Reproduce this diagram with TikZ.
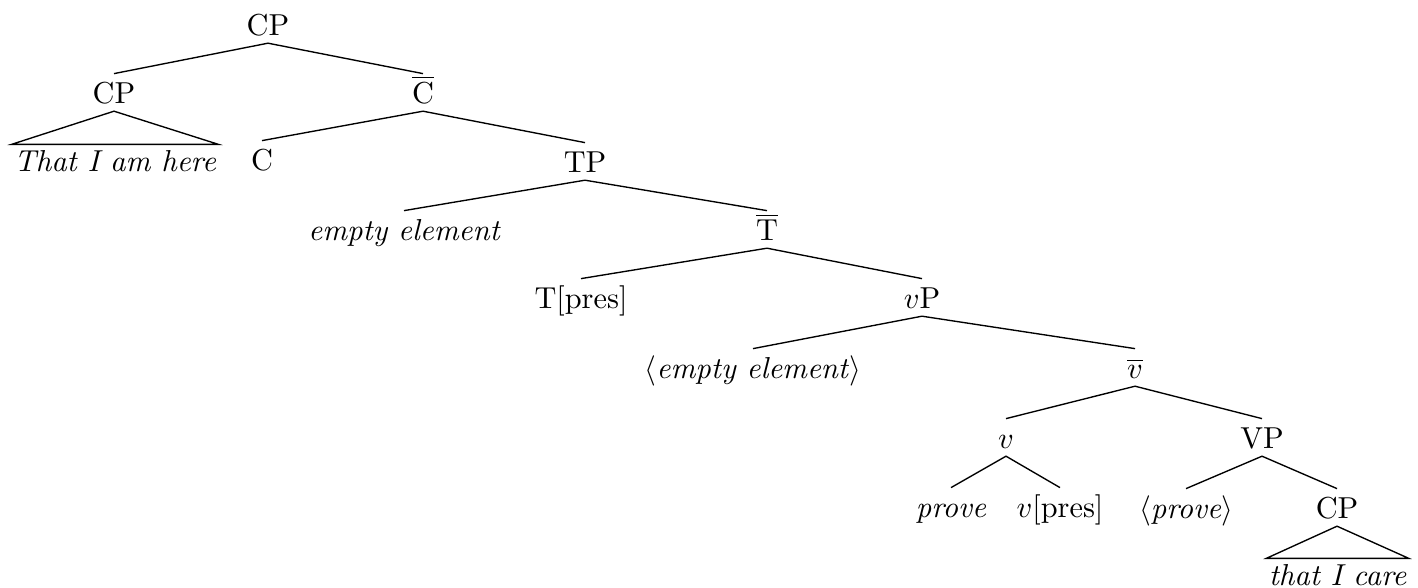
\documentclass[tikz,border=0pt]{standalone}
\begin{document}
\begin{tikzpicture}[x=0.33pt,y=-0.33pt,
  lab/.style={inner sep=0pt,text height=9.5pt,text depth=2.5pt,anchor=base},
  leaf/.style={inner xsep=0.6pt,inner ysep=0pt,text height=8.6pt,text depth=2.5pt,anchor=base},
  edge/.style={line width=0.45pt}]
\useasboundingbox (0,0) rectangle (1418,587);
\node[lab] (cp0) at (268,35) {CP};
\node[lab] (cp1) at (114,103) {CP};
\node[lab] (cbar) at (423,103) {$\overline{\mbox{C}}$};
\node[leaf] (that) at (115,171) {\itshape That I am here};
\node[lab] (c) at (262,170) {C};
\node[lab] (tp) at (585,172) {TP};
\node[lab] (ee) at (404,240) {\itshape empty element};
\node[lab] (tbar) at (767,240) {$\overline{\mbox{T}}$};
\node[lab] (tpres) at (581,308) {T[pres]};
\node[lab] (vp) at (922,308) {$v$P};
\node[lab] (ee2) at (753,378) {$\langle$\textit{empty element}$\rangle$};
\node[lab] (vbar) at (1135,378) {$\overline{v}$};
\node[lab] (v) at (1006,448) {$v$};
\node[lab] (VP) at (1262,448) {VP};
\node[lab] (prove) at (951,517) {\itshape prove};
\node[lab] (vpres) at (1060,517) {$v$[pres]};
\node[lab] (prove2) at (1186,518) {$\langle$\textit{prove}$\rangle$};
\node[lab] (cp2) at (1337,518) {CP};
\node[leaf] (care) at (1337.5,585) {\itshape that I care};
\draw[edge] (cp1.north) -- (cp0.south) -- (cbar.north);
\draw[edge] (cp1.south) -- (that.north west) -- (that.north east) -- cycle;
\draw[edge] (c.north) -- (cbar.south) -- (tp.north);
\draw[edge] (ee.north) -- (tp.south) -- (tbar.north);
\draw[edge] (tpres.north) -- (tbar.south) -- (vp.north);
\draw[edge] (ee2.north) -- (vp.south) -- (vbar.north);
\draw[edge] (v.north) -- (vbar.south) -- (VP.north);
\draw[edge] (prove.north) -- (v.south) -- (vpres.north);
\draw[edge] (prove2.north) -- (VP.south) -- (cp2.north);
\draw[edge] (cp2.south) -- (care.north west) -- (care.north east) -- cycle;
\end{tikzpicture}
\end{document}
